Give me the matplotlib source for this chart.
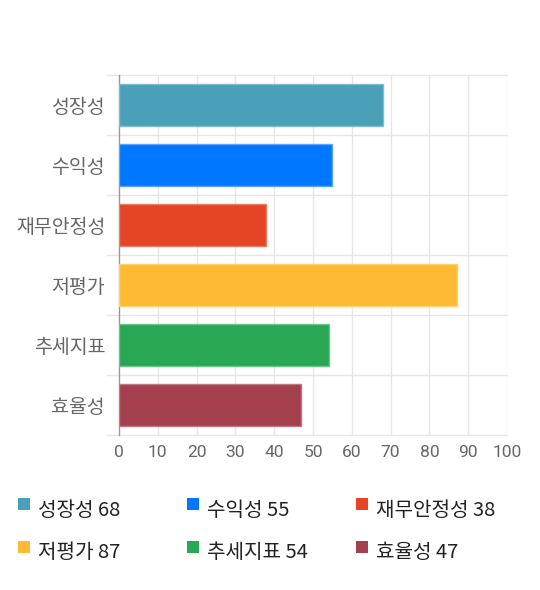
import matplotlib
matplotlib.use("Agg")
import matplotlib.pyplot as plt
from matplotlib.patches import Rectangle

plt.rcParams['font.family'] = ['Noto Sans CJK KR', 'DejaVu Sans']

categories = ['성장성', '수익성', '재무안정성', '저평가', '추세지표', '효율성']
values = [68, 55, 38, 87, 54, 47]
colors = ['#4aa0b9', '#0077ff', '#e34525', '#ffba33', '#28a854', '#a5404f']
edge_colors = ['#7fbccd', '#5aa5ff', '#ec7c66', '#ffcf70', '#6cc38b', '#c07883']
xticks = list(range(0, 101, 10))

W, H = 540, 590
fig = plt.figure(figsize=(W / 100, H / 100), dpi=100)
ax = fig.add_axes([119 / W, 1 - 435 / H, (507 - 119) / W, (435 - 75) / H])

n = len(categories)
ypos = list(range(n))
ax.barh(ypos, values, height=0.69, color=colors, edgecolor=edge_colors, linewidth=1, zorder=3)
ax.set_ylim(n - 0.5, -0.5)
ax.set_xlim(0, 100)
ax.set_xticks(xticks)
ax.set_xticklabels([str(t) for t in xticks], fontsize=12.5, color='#666666',
                   family=['Roboto', 'DejaVu Sans'])
ax.set_yticks(ypos)
ax.set_yticklabels(categories, fontsize=14, color='#666666')
ax.tick_params(axis='y', length=0, pad=10)
ax.tick_params(axis='x', length=0, pad=7)

# grid
for t in xticks[1:]:
    ax.axvline(t, color='#e6e6e6', linewidth=1, zorder=1)
for b in [i - 0.5 for i in range(n + 1)]:
    ax.plot([-3, 100], [b, b], color='#e6e6e6', linewidth=1, zorder=1, clip_on=False)

for s in ['top', 'right', 'bottom']:
    ax.spines[s].set_visible(False)
ax.spines['left'].set_color('#999999')
ax.spines['left'].set_linewidth(1)

# legend
col_x = [18, 187, 356]
row_y = [504, 547]
for i, (c, v, col) in enumerate(zip(categories, values, colors)):
    r, k = divmod(i, 3)
    sx = col_x[k]
    sy = row_y[r]
    fig.patches.append(Rectangle((sx / W, 1 - (sy + 6) / H), 12 / W, 12 / H,
                                 transform=fig.transFigure, facecolor=col, edgecolor='none'))
    fig.text((sx + 20) / W, 1 - (sy + 6) / H, f'{c} {v}', fontsize=14.5, color='#222222',
             ha='left', va='center')

fig.savefig('out.png', dpi=100, facecolor='white')
